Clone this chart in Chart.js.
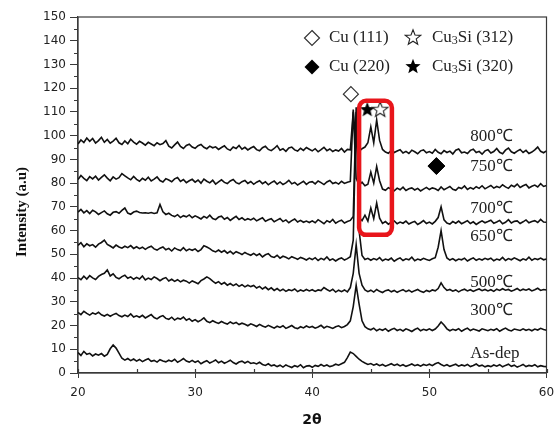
<!DOCTYPE html>
<html>
<head>
<meta charset="utf-8">
<script src="https://cdn.jsdelivr.net/npm/chart.js@4.4.1/dist/chart.umd.min.js"></script>
<style>
  html, body { margin: 0; padding: 0; background: #fff; }
  canvas { display: block; }
</style>
</head>
<body>
<canvas id="xrd" width="556" height="430"></canvas>
<script>
// scan: 20-60 deg, 0.25 deg step
const twoTheta = [];
for (let i = 0; i <= 160; i++) twoTheta.push(20 + i * 0.25);

const asDep = [
  8.6, 7.4, 9.1, 7.9, 8.3, 7.2, 8.0, 7.5, 8.2, 7.1, 7.8, 10.2, 11.8, 10.5, 8.4, 6.2, 5.4, 6.1, 5.2, 5.9,
  5.0, 5.7, 4.8, 5.5, 6.0, 4.9, 5.3, 4.6, 5.6, 5.1, 4.7, 5.4, 4.9, 5.8, 4.5, 5.2, 6.1, 5.0, 4.6, 5.3,
  4.5, 5.1, 3.9, 4.6, 5.2, 4.2, 4.8, 5.5, 4.3, 5.0, 4.1, 4.7, 5.4, 4.4, 3.8, 4.6, 5.0, 4.2, 4.9, 4.0,
  4.3, 3.8, 4.5, 3.6, 3.2, 3.9, 3.0, 3.4, 2.7, 3.3, 2.5, 3.4, 2.8, 2.3, 3.1, 2.6, 3.5, 2.2, 2.9, 3.1,
  2.4, 3.2, 2.8, 3.6, 2.9, 3.4, 2.7, 3.1, 3.7, 3.3, 3.9, 4.5, 6.5, 8.8, 8.2, 7.0, 5.8, 4.9, 4.2, 3.6,
  4.0, 3.3, 3.8, 3.1, 3.6, 2.9, 3.4, 3.9, 3.2, 3.7, 3.0, 3.5, 2.8, 3.3, 3.8, 3.1, 3.5, 2.9, 3.6, 3.2,
  3.7, 3.1, 3.9, 4.4, 3.6, 3.0, 3.5, 2.8, 3.3, 3.7, 2.9, 3.4, 3.0, 3.6, 2.7, 3.2, 3.8, 2.9, 3.3, 2.6,
  3.1, 2.7, 3.4, 2.9, 3.5, 2.6, 3.2, 3.7, 2.8, 3.3, 2.5, 3.0, 3.6, 2.7, 3.2, 2.9, 3.5, 2.6, 3.1, 2.8,
  2.7
];

const t300 = [
  25.5, 24.6, 26.0, 25.1, 24.4, 25.3, 24.8, 25.6, 24.5, 24.0, 24.7, 23.9, 24.6, 25.1, 24.2, 23.7, 24.4, 23.8, 24.9, 23.6,
  24.1, 23.5, 24.3, 23.2, 23.9, 24.6, 23.4, 22.8, 23.7, 24.2, 23.0, 22.6, 23.5, 22.3, 23.1, 22.7, 23.6, 22.2, 22.9, 21.8,
  22.5, 21.6, 22.3, 23.2, 21.8, 21.2, 22.0, 21.4, 20.9, 21.7, 21.1, 20.6, 21.5, 20.8, 21.3, 20.4, 21.0, 20.5, 19.9, 20.7,
  20.2, 19.6, 20.5, 19.8, 19.3, 20.1, 19.5, 18.9, 19.7, 19.2, 19.9, 18.8, 19.4, 20.0, 19.1, 18.7, 19.5, 19.0, 19.8, 19.2,
  19.6, 18.9, 19.4, 20.1, 19.0, 19.7, 19.3, 18.8, 19.5, 19.9, 19.1, 19.6, 20.4, 22.0, 28.0, 37.0, 29.0, 22.0, 19.5, 18.6,
  18.2, 18.9, 17.8, 18.5, 18.0, 18.7, 17.6, 18.3, 18.8, 17.9, 18.4, 17.7, 18.6, 18.1, 17.5, 18.3, 18.9, 17.8, 18.4, 18.0,
  18.6, 17.9, 18.5, 19.8, 21.5, 20.2, 18.6, 17.8, 18.4, 18.0, 18.7, 17.6, 18.3, 18.9, 17.9, 18.5, 18.1, 17.7, 18.6, 18.2,
  17.8, 18.4, 18.0, 18.7, 17.6, 18.3, 18.9, 18.1, 17.7, 18.5, 18.2, 17.9, 18.6, 18.0, 18.4, 17.8, 18.5, 18.1, 18.8, 18.3,
  18.0
];

const t500 = [
  40.2, 39.3, 40.8, 39.6, 41.0, 40.1, 39.4, 40.7, 41.5, 42.0, 43.4, 40.9, 41.8, 40.3, 39.7, 40.6, 41.2, 39.9, 40.5, 39.5,
  40.3, 39.6, 40.9, 39.2, 40.0, 39.4, 40.5, 39.8, 38.9, 39.7, 40.2, 38.8, 39.5, 38.6, 39.3, 38.4, 39.1, 38.7, 37.9, 38.8,
  38.2, 37.6, 38.9, 39.6, 40.5, 39.8, 38.7, 37.8, 38.5, 37.4, 38.1, 37.0, 37.7, 36.8, 37.5, 36.5, 37.2, 36.3, 37.0, 36.4,
  36.9, 35.8, 36.5, 35.4, 36.2, 35.1, 35.9, 34.8, 35.6, 34.6, 35.3, 34.4, 35.1, 34.7, 35.4, 34.3, 35.0, 34.5, 35.2, 34.6,
  35.1, 34.4, 35.0, 34.7, 36.0, 35.2, 34.5, 35.3, 34.1, 34.9, 34.3, 35.0, 34.2, 36.0, 42.0, 54.0, 42.0, 37.0, 35.0, 34.3,
  34.9, 34.1, 35.2, 34.4, 33.9, 34.7, 35.0, 34.2, 34.8, 34.0, 34.6, 35.1, 34.3, 34.9, 34.1, 34.7, 35.2, 34.4, 34.0, 34.8,
  34.3, 35.0, 34.6, 35.6, 38.0, 36.0, 34.8, 35.2, 34.5, 35.0, 34.2, 34.9, 35.3, 34.6, 35.1, 34.4, 35.0, 35.4, 34.7, 35.2,
  34.6, 35.1, 34.4, 35.3, 34.8, 35.5, 34.9, 35.2, 34.5, 35.0, 35.6, 34.7, 35.3, 34.9, 35.4, 34.6, 35.1, 35.7, 34.8, 35.2,
  35.0
];

const t650 = [
  53.8, 54.9, 53.2, 54.4, 53.6, 54.1, 53.0, 54.3, 55.0, 56.0, 54.2, 53.5, 52.7, 53.9, 53.1, 52.6, 53.4, 52.8, 53.7, 52.5,
  53.2, 52.4, 53.0, 52.1, 52.9, 53.4, 52.3, 51.8, 52.6, 53.1, 51.9, 52.5, 51.4, 52.7, 52.0, 51.6, 52.8, 51.5, 52.2, 51.7,
  52.3, 51.2, 52.0, 53.6, 53.1, 52.4, 51.5, 51.0, 51.8, 50.9, 51.6, 50.5, 51.3, 50.2, 51.1, 50.6, 49.9, 50.8, 50.1, 49.6,
  50.4, 49.5, 50.2, 48.9, 49.8, 50.3, 49.1, 48.7, 49.6, 48.4, 49.2, 48.8, 48.1, 49.0, 48.5, 47.9, 48.7, 48.2, 47.6, 48.4,
  47.8, 48.6, 47.4, 48.3, 47.7, 48.9, 47.5, 48.1, 47.2, 48.0, 48.5, 47.6, 48.2, 49.0, 56.0, 110.0, 60.0, 49.5, 47.8, 48.3,
  47.5, 48.2, 47.7, 48.6, 47.3, 48.0, 47.6, 48.4, 47.1, 47.9, 48.5, 47.4, 48.1, 47.7, 48.8, 47.3, 48.0, 47.6, 48.3, 47.8,
  47.4, 48.1, 48.6, 53.0, 60.0, 52.0, 48.5, 47.6, 48.2, 47.3, 48.0, 47.7, 48.4, 47.2, 47.9, 48.5, 47.5, 48.1, 47.6, 48.3,
  47.8, 48.4, 47.3, 48.0, 47.6, 48.7, 47.4, 48.2, 47.7, 48.5, 47.9, 47.3, 48.1, 47.6, 48.8, 47.5, 48.2, 47.8, 48.4, 47.7,
  48.0
];

const t700 = [
  67.8, 68.9, 67.5, 68.4, 67.2, 68.6, 67.9, 66.8, 67.6, 68.3, 67.1, 66.5, 67.7, 68.0, 67.3, 68.5, 69.5, 67.4, 66.9, 67.8,
  68.2, 67.6, 67.4, 67.5, 67.3, 67.6, 67.2, 67.5, 71.0, 67.9, 66.8, 67.3, 66.4, 65.9, 66.7, 65.5, 66.3, 65.8, 66.6, 65.4,
  66.2, 65.6, 64.9, 66.0, 65.3, 66.5, 65.1, 64.6, 65.7, 66.1, 64.8, 65.5, 64.3, 65.2, 66.0, 64.7, 65.4, 64.4, 65.0, 64.5,
  65.2, 64.1, 64.8, 65.4, 63.9, 64.6, 65.0, 63.7, 64.4, 65.1, 63.8, 64.5, 63.3, 64.2, 64.9, 63.6, 64.3, 63.5, 64.0, 63.4,
  64.1, 63.3, 64.6, 63.8, 62.9, 64.2, 63.5, 64.7, 63.1, 63.9, 64.4, 63.2, 63.8, 64.3, 66.0, 112.0, 65.5, 64.2, 66.5, 64.0,
  69.5, 65.0, 71.6, 65.2, 63.0, 63.8, 62.7, 63.5, 64.1, 62.9, 63.6, 63.1, 64.0, 62.8, 63.4, 63.9, 62.6, 63.3, 64.2, 63.0,
  63.6, 62.8, 63.9, 65.5, 70.0, 64.5, 63.2, 62.7, 63.8, 63.1, 64.0, 62.9, 63.5, 64.2, 63.0, 63.7, 62.6, 63.4, 64.1, 63.3,
  63.8, 64.4, 63.1, 63.6, 64.3, 62.9, 63.5, 64.6, 63.2, 63.9, 64.1, 63.0, 63.7, 64.5, 63.3, 63.8, 64.2, 63.4, 64.7, 63.6,
  63.5
];

const t750 = [
  81.5, 83.2, 82.0, 81.1, 82.7, 81.8, 82.9, 81.3, 82.4, 83.5, 82.1, 81.0, 82.6, 81.7, 82.3, 84.0, 83.1, 82.2, 81.4, 82.8,
  81.6, 80.8, 82.0, 81.2, 82.5, 80.9, 81.7, 82.6, 81.1, 80.5, 81.9, 81.3, 80.6, 81.8, 82.4, 80.7, 81.5, 80.2, 81.0, 81.6,
  80.4, 81.3, 80.0, 81.7, 80.8, 80.1, 81.2, 79.6, 80.5, 81.4, 80.3, 79.8, 80.9, 81.5, 80.2, 79.7, 80.6, 81.1, 79.9, 80.7,
  79.5, 80.4, 81.0, 79.8, 80.6, 79.3, 80.2, 80.9, 79.6, 80.5, 79.4, 80.1, 81.2, 79.7, 80.3, 79.2, 80.0, 80.8, 79.5, 80.4,
  80.6, 79.7, 80.9, 80.2, 79.4, 80.5, 81.1, 79.8, 80.3, 79.6, 80.8, 79.9, 80.4, 80.7, 111.0, 82.0, 79.2, 80.4, 78.9, 79.5,
  84.7, 80.0, 87.0, 81.0, 77.5, 77.0, 78.1, 77.4, 76.8, 77.9, 77.2, 78.3, 76.9, 77.6, 78.0, 77.1, 77.8, 76.7, 77.5, 78.2,
  77.3, 78.0, 77.6, 76.9, 78.4, 77.2, 77.9, 78.6, 77.4, 77.0, 78.2, 77.7, 78.8, 77.3, 78.1, 77.5, 78.5, 77.8, 78.9, 77.6,
  78.3, 79.0, 77.9, 78.6, 78.1, 79.3, 78.4, 77.8, 79.1, 78.5, 79.6, 78.2, 78.9, 79.4, 78.0, 78.7, 79.2, 78.4, 79.8, 78.6,
  79.0
];

const t800 = [
  96.5, 98.2, 97.1, 99.0, 97.6, 98.8, 96.9, 97.9, 99.3, 97.2, 98.4, 96.8, 97.7, 98.9, 97.0, 96.3, 97.8, 96.6, 98.5, 97.3,
  96.4, 97.6, 96.9, 96.0, 97.2, 96.5, 95.8, 97.0, 96.2, 96.7, 97.9, 95.6, 94.8, 96.1, 97.3, 95.5, 94.6, 95.9, 96.4, 95.2,
  94.7, 95.8, 96.3, 95.1, 94.5, 95.6, 94.9, 95.3, 94.2, 95.0, 95.7, 94.4, 93.8, 95.2, 94.6, 95.9, 94.3, 95.1, 94.0, 94.8,
  95.4, 94.1, 93.6, 94.9, 95.5, 94.2, 93.7, 94.6, 95.8, 93.9, 94.5, 93.4, 94.8, 95.2, 94.0, 93.5, 94.7, 93.8, 95.0, 94.3,
  93.6, 94.5, 93.2, 94.1, 95.1, 93.7, 94.4, 93.3, 94.0, 93.5, 94.6, 93.1, 94.2, 94.0, 110.0, 96.0, 93.4, 94.5, 95.2, 97.0,
  103.7, 97.0, 106.6, 98.0, 94.2, 93.1, 92.6, 93.8, 92.9, 93.5, 94.1, 92.7, 93.4, 92.5, 93.9, 93.2, 92.4, 93.6, 94.0, 92.8,
  93.3, 92.6, 94.2, 93.0, 92.4, 93.7, 92.9, 93.5, 92.3, 93.9, 94.4, 92.8, 93.1, 92.5, 93.8, 94.3, 92.9, 93.4, 92.2, 93.6,
  94.1, 92.7, 93.3, 94.6, 93.0, 92.4, 93.9, 94.8, 93.2, 92.6, 93.5, 94.2, 92.9, 93.8, 92.5, 93.1, 94.0, 95.2, 93.4, 92.8,
  93.6
];

const curves = [asDep, t300, t500, t650, t700, t750, t800];
const curveNames = ['As-dep', '300℃', '500℃', '650℃', '700℃', '750℃', '800℃'];
// where each curve name sits (2θ, intensity)
const curveNameAt = [[53.5, 8.4], [53.5, 26.5], [53.5, 38.3], [53.5, 57.7], [53.5, 69.5], [53.5, 86.8], [53.5, 99.5]];

// phase markers above the peaks
const cu111 = [{ x: 43.3, y: 117.5 }];
const cu220 = [{ x: 50.6, y: 87.2 }];
const cu3si312 = [{ x: 45.8, y: 111.2 }];
const cu3si320 = [{ x: 44.7, y: 111.2 }];

// highlighted Cu3Si region
const boxX = [44.0, 46.8];
const boxY = [58.2, 114.7];

const SERIF = '"Liberation Serif", "Times New Roman", serif';
const SANS = '"DejaVu Sans", Verdana, sans-serif';
const AXIS = '#3a3a3a';

function starImage(filled) {
  const c = document.createElement('canvas');
  c.width = 18; c.height = 18;
  const g = c.getContext('2d');
  g.beginPath();
  for (let k = 0; k < 10; k++) {
    const r = k % 2 ? 3.4 : 8;
    const a = -Math.PI / 2 + k * Math.PI / 5;
    g.lineTo(9 + r * Math.cos(a), 9.8 + r * Math.sin(a));
  }
  g.closePath();
  if (filled) {
    g.fillStyle = '#000';
    g.fill();
  } else {
    g.fillStyle = '#fff';
    g.fill();
    g.lineWidth = 1.1;
    g.strokeStyle = '#222';
    g.stroke();
  }
  return c;
}
const starOpen = starImage(false);
const starFilled = starImage(true);

function diamond(ctx, x, y, r, filled) {
  ctx.beginPath();
  ctx.moveTo(x, y - r);
  ctx.lineTo(x + r, y);
  ctx.lineTo(x, y + r);
  ctx.lineTo(x - r, y);
  ctx.closePath();
  if (filled) {
    ctx.fillStyle = '#000';
    ctx.fill();
  } else {
    ctx.fillStyle = '#fff';
    ctx.fill();
    ctx.lineWidth = 1.2;
    ctx.strokeStyle = '#333';
    ctx.stroke();
  }
}

// "Cu3Si" with a lowered small 3
function phaseText(ctx, x, y, rest) {
  ctx.font = '17px ' + SERIF;
  ctx.fillText('Cu', x, y);
  let w = ctx.measureText('Cu').width;
  ctx.font = '12px ' + SERIF;
  ctx.fillText('3', x + w, y + 3);
  w += ctx.measureText('3').width;
  ctx.font = '17px ' + SERIF;
  ctx.fillText('Si ' + rest, x + w, y);
}

const decor = {
  id: 'decor',
  beforeDatasetsDraw(chart) {
    const { ctx, chartArea: a, scales: { x, y } } = chart;
    ctx.save();
    ctx.strokeStyle = AXIS;
    ctx.lineWidth = 1.2;
    ctx.strokeRect(a.left, a.top, a.right - a.left, a.bottom - a.top);
    // minor ticks
    ctx.beginPath();
    for (let v = 5; v < 150; v += 10) {
      const py = Math.round(y.getPixelForValue(v)) + 0.5;
      ctx.moveTo(a.left - 4, py); ctx.lineTo(a.left, py);
    }
    for (let v = 20; v <= 60; v += 5) {
      const px = Math.round(x.getPixelForValue(v)) + 0.5;
      ctx.moveTo(px, a.bottom); ctx.lineTo(px, a.bottom - 4);
    }
    ctx.stroke();
    ctx.restore();
  },
  afterDatasetsDraw(chart) {
    const { ctx, scales: { x, y } } = chart;
    ctx.save();
    // red frame around the Cu3Si peaks
    const l = x.getPixelForValue(boxX[0]), r = x.getPixelForValue(boxX[1]);
    const t = y.getPixelForValue(boxY[1]), b = y.getPixelForValue(boxY[0]);
    ctx.beginPath();
    ctx.roundRect(l, t, r - l, b - t, 7);
    ctx.lineWidth = 4.5;
    ctx.strokeStyle = '#e8151b';
    ctx.stroke();

    // curve names
    ctx.fillStyle = '#222';
    ctx.font = '17px ' + SERIF;
    ctx.textBaseline = 'middle';
    ctx.textAlign = 'left';
    curveNames.forEach((name, i) => {
      ctx.fillText(name, x.getPixelForValue(curveNameAt[i][0]), y.getPixelForValue(curveNameAt[i][1]));
    });

    // legend
    diamond(ctx, 312, 38, 7.5, false);
    ctx.fillStyle = '#222';
    ctx.font = '17px ' + SERIF;
    ctx.fillText('Cu (111)', 329, 38);
    ctx.drawImage(starOpen, 404, 28);
    phaseText(ctx, 432, 38, '(312)');
    diamond(ctx, 312, 67, 7.5, true);
    ctx.fillStyle = '#222';
    ctx.font = '17px ' + SERIF;
    ctx.fillText('Cu (220)', 329, 67);
    ctx.drawImage(starFilled, 404, 57);
    phaseText(ctx, 432, 67, '(320)');

    // axis titles
    ctx.fillStyle = '#111';
    ctx.textAlign = 'center';
    ctx.font = 'bold 14px ' + SANS;
    ctx.fillText('2θ', 312, 420);
    ctx.translate(22, 212);
    ctx.rotate(-Math.PI / 2);
    ctx.font = 'bold 15px ' + SERIF;
    ctx.fillText('Intensity (a.u)', 0, 0);
    ctx.restore();
  }
};

const lineSets = curves.map((vals, i) => ({
  label: curveNames[i],
  data: vals.map((v, k) => ({ x: twoTheta[k], y: v })),
  showLine: true,
  borderColor: '#111',
  borderWidth: 1.6,
  pointRadius: 0,
  tension: 0,
  order: 2
}));

const markerSets = [
  { label: 'Cu (111)', data: cu111, pointStyle: 'rectRot', pointRadius: 7.5, backgroundColor: '#fff', borderColor: '#333', borderWidth: 1.2, order: 1 },
  { label: 'Cu (220)', data: cu220, pointStyle: 'rectRot', pointRadius: 8.5, backgroundColor: '#000', borderColor: '#000', borderWidth: 1, order: 1 },
  { label: 'Cu3Si (312)', data: cu3si312, pointStyle: starOpen, order: 1 },
  { label: 'Cu3Si (320)', data: cu3si320, pointStyle: starFilled, order: 1 }
];

new Chart(document.getElementById('xrd'), {
  type: 'scatter',
  data: { datasets: [...lineSets, ...markerSets] },
  plugins: [decor],
  options: {
    responsive: false,
    animation: false,
    layout: { padding: { top: 17, right: 8, left: 0, bottom: 0 } },
    plugins: { legend: { display: false }, tooltip: { enabled: false } },
    scales: {
      x: {
        type: 'linear',
        min: 20,
        max: 60,
        afterFit(scale) {
          scale.height = 57;
          scale.paddingLeft = 0;
          scale.paddingRight = 0;
        },
        ticks: { stepSize: 10, color: '#222', padding: 8, font: { family: SANS, size: 12 } },
        grid: { drawOnChartArea: false, drawTicks: true, tickLength: 5, color: AXIS },
        border: { color: AXIS, width: 1.2 }
      },
      y: {
        min: 0,
        max: 150,
        afterFit(scale) { scale.width = 78; },
        ticks: { stepSize: 10, color: '#222', padding: 4, font: { family: SANS, size: 12 } },
        grid: { drawOnChartArea: false, drawTicks: true, tickLength: 8, color: AXIS },
        border: { color: AXIS, width: 1.2 }
      }
    }
  }
});
</script>
</body>
</html>
